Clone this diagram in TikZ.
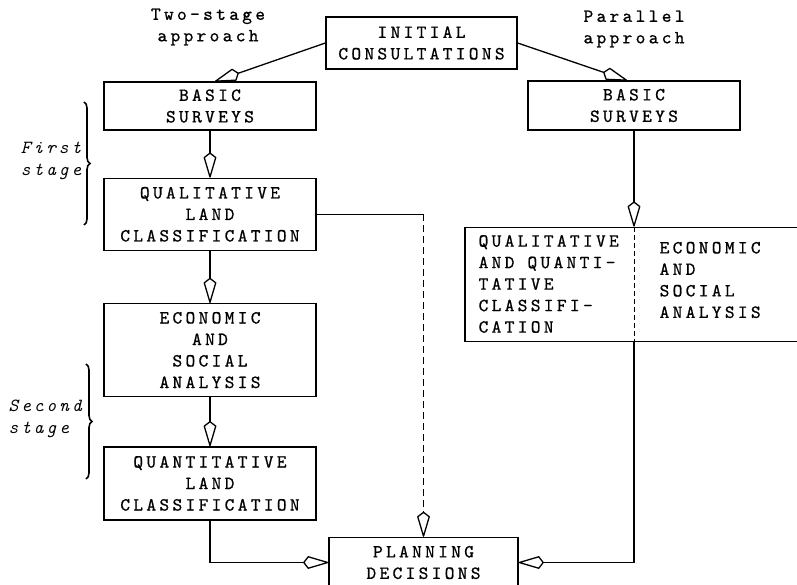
\documentclass[tikz,border=0pt]{standalone}
\usepackage{fontspec}
\usetikzlibrary{
		positioning,
		arrows.meta,
		decorations.pathreplacing
	}
\newfontfamily\blockfam{lmmono10-regular.otf}[LetterSpace=18,FakeBold=0.8]
\newfontfamily\stagefam{lmmono10-italic.otf}[LetterSpace=16]
\newcommand{\blockfont}{\blockfam\fontsize{18.5}{21.5}\selectfont}
\newcommand{\stagefont}{\stagefam\fontsize{18.5}{21.5}\selectfont}

\begin{document}
\begin{tikzpicture}[-,auto,x=1pt,y=-1pt,line width=1.3pt]
	\tikzstyle{block}=[draw, rectangle, inner sep=2pt, align=center, font=\blockfont, minimum width=212pt]
	\tikzstyle{note}=[inner sep=0pt, align=center, font=\blockfont]
	\tikzstyle{stage}=[inner sep=0pt, font=\stagefont]
	\tikzstyle{flow}=[-{Kite[open,length=27pt,width=13pt,inset=5pt,round]}]
	\tikzstyle{brace}=[decorate, decoration={brace, amplitude=6pt}, line width=1.6pt]
	\useasboundingbox (0,0) rectangle (797,585);
	% Blocks
	\node[block, minimum width=191pt, minimum height=52pt] (init) at (421.5,43) {INITIAL\\CONSULTATIONS};
	\node[block, minimum height=48pt] (bs1) at (210,106)            {BASIC\\SURVEYS};
	\node[block, minimum height=72pt] (qual)  [below = 47pt of bs1]  {QUALITATIVE\\LAND\\CLASSIFICATION};
	\node[block, minimum height=93pt] (econ)  [below = 52pt of qual] {ECONOMIC\\AND\\SOCIAL\\ANALYSIS};
	\node[block, minimum height=73pt] (quant) [below = 49pt of econ] {QUANTITATIVE\\LAND\\CLASSIFICATION};
	\node[block, minimum height=49pt] (bs2) at (634,105.5)          {BASIC\\SURVEYS};
	\node[block, minimum width=338pt, minimum height=114pt] (comb) [below = 96pt of bs2] {};
	\node[block, minimum width=189pt, minimum height=50pt] (plan) at (423.5,562.5) {PLANNING\\DECISIONS};
	% Texts in the joint block
	\node[note, align=left, anchor=west] (combl) at (478,284) {QUALITATIVE\\AND QUANTI-\\TATIVE\\CLASSIFI-\\CATION};
	\node[note, align=left, anchor=west] (combr) at (659,280) {ECONOMIC\\AND\\SOCIAL\\ANALYSIS};
	% Labels
	\node[note] (two) at (208,27) {Two-stage\\approach};
	\node[note] (par) at (634,29) {Parallel\\approach};
	\node[stage, align=right, anchor=east] (first)  at (82,161) {First\\stage};
	\node[stage, align=left, anchor=west]  (second) at (8,419)  {Second\\stage};
	\coordinate (b1) at (84,102);
	\coordinate (b2) at (84,225);
	\coordinate (b3) at (86,364);
	\coordinate (b4) at (86,479);
	\coordinate (turn) at (qual.east -| plan.north);
	% Braces
	\draw[brace] (b1) -- (b2);
	\draw[brace] (b3) -- (b4);
	% Straight Lines
	\draw[flow] (init.west) -- ([xshift=5pt]bs1.north);
	\draw[flow] (init.east) -- ([xshift=-7pt]bs2.north);
	\draw[flow] (bs1) -- (qual);
	\draw[flow] (qual) -- (econ);
	\draw[flow] (econ) -- (quant);
	\draw[flow] (bs2) -- (comb);
	% Other lines
	\draw[flow] (quant) |- (plan);
	\draw[flow] (comb) |- (plan);
	\draw (qual.east) -- (turn);
	\draw[flow, dash pattern=on 7pt off 4pt] (turn) -- (plan.north);
	\draw[line width=1pt, dash pattern=on 5pt off 3pt] (comb.north) -- (comb.south);
\end{tikzpicture}
\end{document}
